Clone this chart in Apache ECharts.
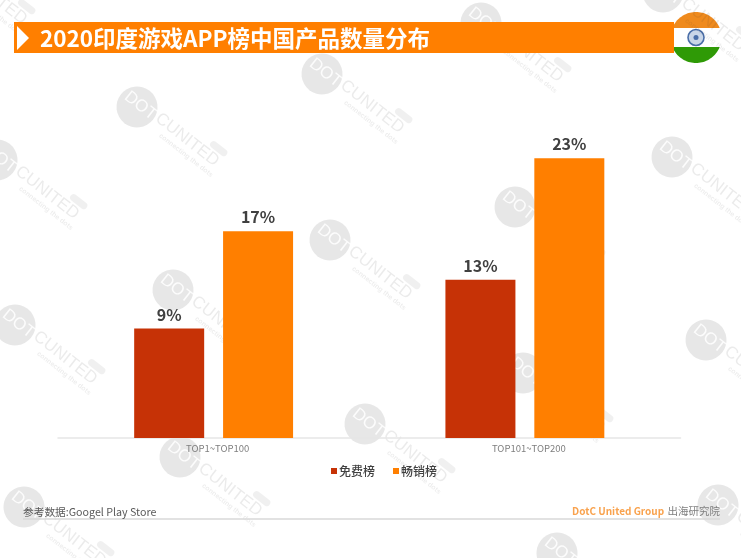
<!DOCTYPE html>
<html><head><meta charset="utf-8">
<style>html,body{margin:0;padding:0;background:#fff}#c{width:741px;height:558px}</style>
<script src="https://cdn.jsdelivr.net/npm/echarts@6/dist/echarts.min.js"></script>
</head><body><div id="c"></div>
<script>
var categories = ['TOP1~TOP100', 'TOP101~TOP200'];
var freeList = [9, 13];
var grossingList = [17, 23];
var seriesNames = ['免费榜', '畅销榜'];
var titleText = '2020印度游戏APP榜中国产品数量分布';
var sourceText = '参考数据:Googel Play Store';
var brandText = 'DotC United Group';
var brandSuffix = '出海研究院';
var marks = [[322,74],[481,23],[137,107],[672,157],[515,207],[330,240],[173,290],[-3,160],[706,340],[523,373],[365,424],[180,457],[15,325],[24,507],[718,505],[557,553],[663,-8],[-55,-35]];
var FONT = '"Noto Sans CJK SC","Noto Sans",sans-serif';

function watermark(p) {
  return {
    type: 'group', x: p[0], y: p[1], rotation: -Math.PI * 38 / 180, z: 50, silent: true,
    children: [
      {type: 'circle', shape: {cx: 0, cy: 0, r: 20.5}, style: {fill: 'rgba(60,60,60,0.12)'}},
      {type: 'text', x: 2, y: -3, style: {text: 'DOT', fill: 'rgba(255,255,255,0.85)', font: '400 17px "Liberation Sans"', align: 'center', verticalAlign: 'middle'}},
      {type: 'text', x: 22, y: -5, style: {text: 'CUNITED', fill: 'rgba(60,60,60,0.1)', font: '400 17px "Liberation Sans"', align: 'left', verticalAlign: 'middle'}},
      {type: 'text', x: 35, y: 8, style: {text: 'connecting the dots', fill: 'rgba(60,60,60,0.09)', font: '700 7px "Liberation Sans"', align: 'left', verticalAlign: 'middle'}},
      {type: 'rect', shape: {x: 80, y: -21, width: 20, height: 7, r: 3.5}, style: {fill: 'rgba(60,60,60,0.08)'}}
    ]
  };
}

function flagSegment(cy, r, dir) {
  var half = Math.sqrt(r * r - cy * cy), a0 = Math.atan2(Math.abs(cy), half), pts = [];
  for (var i = 0; i <= 40; i++) {
    var a = a0 + (Math.PI - 2 * a0) * i / 40;
    pts.push([r * Math.cos(a), dir * r * Math.sin(a)]);
  }
  return pts;
}

var graphics = [
  {type: 'rect', shape: {x: 14, y: 22, width: 660, height: 31}, style: {fill: '#ff7f00'}, z: 1},
  {type: 'polygon', shape: {points: [[17,26],[29,38],[17,50]]}, style: {fill: '#fff'}, z: 2},
  {type: 'text', x: 40, y: 38, style: {text: titleText, fill: '#fff', font: '700 22.5px ' + FONT, verticalAlign: 'middle'}, z: 2},
  {type: 'group', x: 696, y: 37.5, z: 3, children: [
    {type: 'circle', shape: {cx: 0, cy: 0, r: 25.5}, style: {fill: '#fff'}},
    {type: 'polygon', shape: {points: flagSegment(-9.5, 25.5, -1)}, style: {fill: '#ef8a1d'}},
    {type: 'polygon', shape: {points: flagSegment(9.5, 25.5, 1)}, style: {fill: '#2f9a06'}},
    {type: 'circle', shape: {cx: 0, cy: 0, r: 8}, style: {fill: '#c9d6e8', stroke: '#4a6ea8', lineWidth: 1.6}},
    {type: 'circle', shape: {cx: 0, cy: 0, r: 2.5}, style: {fill: '#4a6ea8'}}
  ]},
  {type: 'line', shape: {x1: 23, y1: 519, x2: 720, y2: 519}, style: {stroke: '#d9d9d9', lineWidth: 1.5}, z: 2},
  {type: 'text', x: 23, y: 512, style: {text: sourceText, fill: '#595959', font: '10.7px ' + FONT, verticalAlign: 'middle'}, z: 2},
  {type: 'text', x: 720, y: 511, style: {
    text: '{a|' + brandText + '} {b|' + brandSuffix + '}', align: 'right', verticalAlign: 'middle',
    rich: {a: {fill: '#f9a24d', font: '700 10px ' + FONT}, b: {fill: '#7f7f7f', font: '10.5px ' + FONT}}
  }, z: 2}
].concat(marks.map(watermark));

var chart = echarts.init(document.getElementById('c'), null, {renderer: 'canvas'});
function barSeries(name, data, color) {
  return {
    name: name, type: 'bar', data: data, barWidth: 70, barGap: '27%',
    itemStyle: {color: color},
    label: {show: true, position: 'top', distance: 6, formatter: '{c}%', color: '#404040', fontSize: 16, fontWeight: 700, fontFamily: FONT}
  };
}
chart.setOption({
  animation: false,
  backgroundColor: '#fff',
  grid: {left: 58, right: 60.5, top: 73, bottom: 120},
  legend: {
    data: seriesNames, left: 326, top: 460, itemWidth: 6, itemHeight: 6, itemGap: 18, icon: 'rect',
    textStyle: {color: '#404040', fontSize: 12, fontWeight: 500, fontFamily: FONT, padding: [0,0,0,-3]}
  },
  xAxis: {
    type: 'category', data: categories,
    axisLine: {lineStyle: {color: '#e6e6e6', width: 1.5}}, axisTick: {show: false},
    axisLabel: {color: '#7f7f7f', fontSize: 9.5, margin: 6, fontFamily: FONT, padding: [0,0,0,8]}
  },
  yAxis: {type: 'value', min: 0, max: 30, show: false, splitLine: {show: false}},
  series: [barSeries(seriesNames[0], freeList, '#c63206'), barSeries(seriesNames[1], grossingList, '#ff7f00')],
  graphic: graphics
});
</script></body></html>
